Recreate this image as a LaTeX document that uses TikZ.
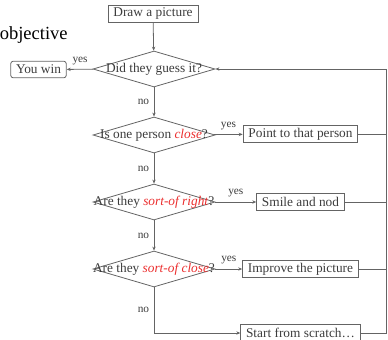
\documentclass[tikz,border=0pt]{standalone}
\usepackage{fontspec}
\setmainfont{Liberation Serif}
\usetikzlibrary{shapes.geometric,arrows.meta}
\definecolor{inkgray}{RGB}{60,60,60}
\definecolor{linegray}{RGB}{100,100,100}
\definecolor{hotred}{RGB}{235,45,45}
\newcommand{\hl}[1]{\textcolor{hotred}{\textit{#1}}}

\begin{document}
\begin{tikzpicture}[x=0.75pt,y=-0.75pt,font=\fontsize{10}{12}\selectfont,text=inkgray,
	box/.style={draw=linegray,line width=0.6pt,inner xsep=4pt,inner ysep=1pt,minimum height=12.5pt},
	choice/.style={draw=linegray,line width=0.6pt,diamond,inner sep=0pt,minimum width=91.5pt,minimum height=27pt},
	arr/.style={draw=linegray,line width=0.6pt,-{Stealth[length=3pt,width=2.5pt]}},
	lab/.style={font=\fontsize{8.5}{10}\selectfont}]
		\useasboundingbox (0,0) rectangle (388,339);
		\node[anchor=base west,inner sep=0pt,font=\fontsize{13.9}{16}\selectfont,text=black] (title) at (-0.5,39) {objective};
		\node[box] (draw) at (153,14) {Draw a picture};
		\node[choice] (d1) at (154,69) {\makebox[0pt]{Did they guess it?}};
		\node[choice] (d2) at (154,135) {\makebox[0pt]{Is one person \hl{close}?}};
		\node[choice] (d3) at (154,202) {\makebox[0pt]{Are they \hl{sort-of right}?}};
		\node[choice] (d4) at (154,269) {\makebox[0pt]{Are they \hl{sort-of close}?}};
		\node[box,rounded corners=2pt] (win) at (38.5,69.5) {You win};
		\node[box] (point) at (300.5,134) {Point to that person};
		\node[box] (smile) at (300.5,202) {Smile and nod};
		\node[box] (improve) at (300.5,269) {Improve the picture};
		\node[box] (scratch) at (300.5,333) {Start from scratch\ldots};
		\coordinate (back) at (386,69);
		\draw[arr] (draw) -- (d1);
		\draw[arr] (d1) -- node[lab,above]{yes} (win);
		\draw[arr] (d1) -- node[lab,left]{no} (d2);
		\draw[arr] (d2) -- node[lab,above]{yes} (point);
		\draw[arr] (d2) -- node[lab,left]{no} (d3);
		\draw[arr] (d3) -- node[lab,above]{yes} (smile);
		\draw[arr] (d3) -- node[lab,left]{no} (d4);
		\draw[arr] (d4) -- node[lab,above]{yes} (improve);
		\draw[arr] (d4) |- node[lab,left,pos=0.25]{no} (scratch);
		\draw[draw=linegray,line width=0.6pt] (point) -- (point -| back);
		\draw[draw=linegray,line width=0.6pt] (smile) -- (smile -| back);
		\draw[draw=linegray,line width=0.6pt] (improve) -- (improve -| back);
		\draw[arr] (scratch) -| (back) -- (d1);
\end{tikzpicture}
\end{document}
